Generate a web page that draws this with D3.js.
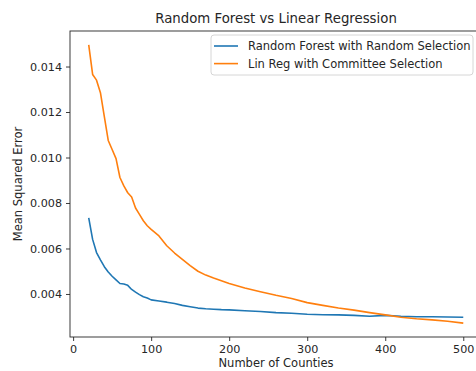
<!DOCTYPE html>
<html>
<head>
<meta charset="utf-8">
<script src="https://cdn.jsdelivr.net/npm/d3@7"></script>
<style>
  body { margin: 0; background: #fff; }
  text { font-family: "DejaVu Sans", sans-serif; fill: #262626; }
</style>
</head>
<body>
<div id="grafico"></div>
<script>
// Número de condados (eixo x)
const condados = [20, 25, 30, 35, 40, 45, 50, 55, 60, 65, 70, 75, 80, 85, 90, 95, 100,
  110, 120, 130, 140, 150, 160, 170, 180, 190, 200,
  220, 240, 260, 280, 300, 320, 340, 360, 380, 400, 420, 440, 460, 480, 500]

// Random Forest com seleção aleatória
const erroRandomForest = [0.00735, 0.00640, 0.00582, 0.00550, 0.00520, 0.00497, 0.00478, 0.00462, 0.00446, 0.00444,
  0.00438, 0.00420, 0.00408, 0.00397, 0.00388, 0.00382, 0.00374,
  0.00369, 0.00364, 0.00358, 0.00350, 0.00344, 0.00338, 0.00335, 0.00333, 0.00331, 0.00330,
  0.00326, 0.00323, 0.00318, 0.00315, 0.00311, 0.00309, 0.00308, 0.00306, 0.00302, 0.00306,
  0.00302, 0.00300, 0.00300, 0.00299, 0.00298]

// Regressão linear com seleção por comitê
const erroLinReg = [0.01495, 0.01365, 0.01340, 0.01285, 0.01180, 0.01075, 0.01035, 0.00995, 0.00912, 0.00875,
  0.00845, 0.00826, 0.00778, 0.00750, 0.00722, 0.00700, 0.00684,
  0.00655, 0.00612, 0.00580, 0.00552, 0.00525, 0.00500, 0.00483, 0.00470, 0.00458, 0.00446,
  0.00426, 0.00410, 0.00394, 0.00380, 0.00362, 0.00350, 0.00338, 0.00329, 0.00318, 0.00308,
  0.00298, 0.00291, 0.00286, 0.00280, 0.00272]

const ticksX = [0, 100, 200, 300, 400, 500]
const ticksY = [0.004, 0.006, 0.008, 0.010, 0.012, 0.014]

const series = [
  { nome: 'Random Forest with Random Selection', valores: erroRandomForest, cor: '#1f77b4' },
  { nome: 'Lin Reg with Committee Selection', valores: erroLinReg, cor: '#ff7f0e' }
]

// Configurações do gráfico
const largura = 476, altura = 371
const margin = { top: 31, right: -6, bottom: 34, left: 70 }
const width = largura - margin.left - margin.right
const height = altura - margin.top - margin.bottom
const fonteTicks = '11.2px'
const fonte = '11.5px'

const svg = d3.select('#grafico').append('svg')
  .attr('width', largura)
  .attr('height', altura)

const g = svg.append('g')
  .attr('transform', `translate(${margin.left}, ${margin.top})`)

// Limites no estilo matplotlib (margem de 5%)
const todos = erroRandomForest.concat(erroLinReg)
const xMin = d3.min(condados), xMax = d3.max(condados)
const yMin = d3.min(todos), yMax = d3.max(todos)
const padX = (xMax - xMin) * 0.05, padY = (yMax - yMin) * 0.05

const x = d3.scaleLinear().domain([xMin - padX, xMax + padX]).range([0, width])
const y = d3.scaleLinear().domain([yMin - padY, yMax + padY]).range([height, 0])

// Linhas
const linha = d3.line()
  .x((d, i) => x(condados[i]))
  .y(d => y(d))

series.forEach(s => {
  g.append('path')
    .datum(s.valores)
    .attr('d', linha)
    .attr('fill', 'none')
    .attr('stroke', s.cor)
    .attr('stroke-width', 1.6)
    .attr('stroke-linejoin', 'round')
})

// Eixos
const eixoX = g.append('g')
  .attr('transform', `translate(0, ${height})`)
  .call(d3.axisBottom(x).tickValues(ticksX).tickSize(4).tickPadding(4))
const eixoY = g.append('g')
  .call(d3.axisLeft(y).tickValues(ticksY).tickFormat(d3.format('.3f')).tickSize(4).tickPadding(4))

;[eixoX, eixoY].forEach(e => {
  e.selectAll('text').style('font-size', fonteTicks).attr('fill', '#262626')
  e.selectAll('line').attr('stroke', '#262626').attr('stroke-width', 0.9)
  e.select('.domain').remove()
})

// Bordas (spines)
g.append('rect')
  .attr('width', width)
  .attr('height', height)
  .attr('fill', 'none')
  .attr('stroke', '#262626')
  .attr('stroke-width', 0.9)

// Título e rótulos dos eixos
svg.append('text')
  .attr('x', margin.left + width / 2)
  .attr('y', 23)
  .attr('text-anchor', 'middle')
  .style('font-size', '13.3px')
  .text('Random Forest vs Linear Regression')

svg.append('text')
  .attr('x', margin.left + width / 2)
  .attr('y', 367)
  .attr('text-anchor', 'middle')
  .style('font-size', fonte)
  .text('Number of Counties')

svg.append('text')
  .attr('transform', `translate(22, ${margin.top + height / 2}) rotate(-90)`)
  .attr('text-anchor', 'middle')
  .style('font-size', fonte)
  .text('Mean Squared Error')

// Legenda
const leg = svg.append('g').attr('transform', 'translate(211, 35)')
leg.append('rect')
  .attr('width', 262)
  .attr('height', 40)
  .attr('rx', 3)
  .attr('fill', '#fff')
  .attr('fill-opacity', 0.8)
  .attr('stroke', '#cccccc')
  .attr('stroke-width', 0.8)

series.forEach((s, i) => {
  const yy = 11 + i * 17.6
  leg.append('line')
    .attr('x1', 3).attr('x2', 27)
    .attr('y1', yy).attr('y2', yy)
    .attr('stroke', s.cor)
    .attr('stroke-width', 1.6)
  leg.append('text')
    .attr('x', 37)
    .attr('y', yy + 4)
    .style('font-size', fonte)
    .text(s.nome)
})
</script>
</body>
</html>
